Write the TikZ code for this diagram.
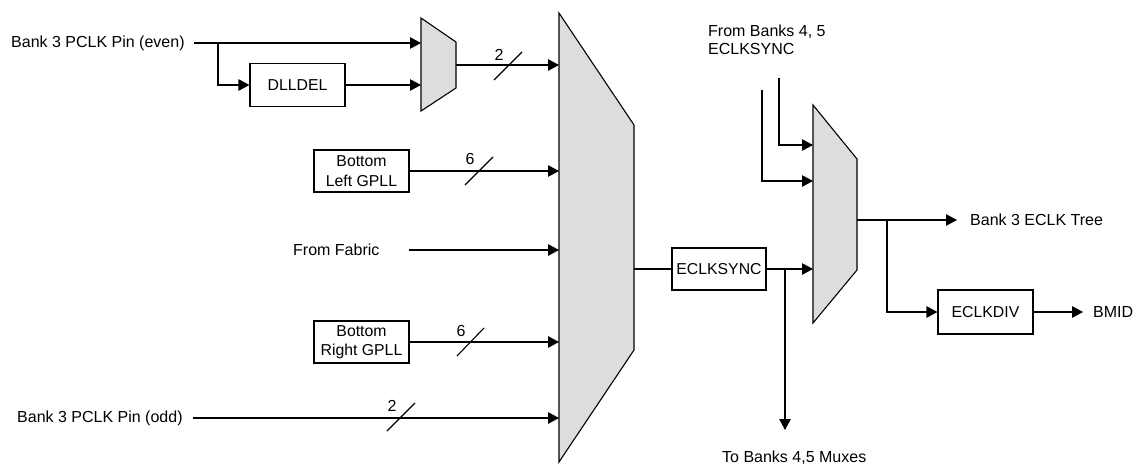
\documentclass[tikz,border=0pt]{standalone}
\usepackage{fontspec}
\setmainfont{Liberation Sans}
\usetikzlibrary{arrows.meta}
\definecolor{muxgray}{RGB}{221,221,221}
\begin{document}
\begin{tikzpicture}[x=1pt,y=-1pt,
  wire/.style={line width=1.1pt},
  arr/.style={wire,-{Triangle[length=11pt,width=11.5pt]}},
  blk/.style={draw,line width=1.1pt,fill=white,inner sep=0pt,align=center,
    font=\fontsize{15.8}{19.5}\selectfont},
  lbl/.style={inner sep=0pt,align=left,font=\fontsize{16}{18}\selectfont},
  muxshape/.style={draw,line width=1.1pt,fill=muxgray,line join=miter},
  busslash/.style={line width=1.1pt},
  buslbl/.style={inner sep=0pt,font=\fontsize{16}{18}\selectfont}]
\useasboundingbox (0,0) rectangle (1136,466);

% muxes
\path[muxshape] (421,18) -- (456,42) -- (456,88) -- (421,111) -- cycle;
\path[muxshape] (559,13) -- (634,125) -- (634,350) -- (559,462) -- cycle;
\path[muxshape] (813,105) -- (857,159) -- (857,270) -- (813,323) -- cycle;

% mux ports
\coordinate (m1a) at (421,43);
\coordinate (m1b) at (421,85);
\coordinate (m1o) at (456,65);
\coordinate (m0a) at (559,65);
\coordinate (m0b) at (559,171);
\coordinate (m0c) at (559,250);
\coordinate (m0d) at (559,342);
\coordinate (m0e) at (559,418);
\coordinate (m0o) at (634,269);
\coordinate (m2a) at (813,145);
\coordinate (m2b) at (813,181);
\coordinate (m2c) at (813,269);
\coordinate (m2o) at (857,220);

% blocks
\node[blk,minimum width=95pt,minimum height=43pt] (dll) at (297.5,85) {DLLDEL};
\node[blk,minimum width=95pt,minimum height=42pt] (blg) at (361.5,171) {Bottom\\Left GPLL};
\node[blk,minimum width=95pt,minimum height=42pt] (brg) at (361.5,342) {Bottom\\Right GPLL};
\node[blk,minimum width=94pt,minimum height=42pt] (esync) at (719,269) {ECLKSYNC};
\node[blk,minimum width=95pt,minimum height=44pt] (ediv) at (985.5,312) {ECLKDIV};

% labels
\node[lbl,anchor=west] (even) at (11,43) {Bank 3 PCLK Pin (even)};
\node[lbl,anchor=west] (odd) at (17,418) {Bank 3 PCLK Pin (odd)};
\node[lbl,anchor=west] (fab) at (293,250) {From Fabric};
\node[lbl,anchor=west] (b45) at (708,40) {From Banks 4, 5\\ECLKSYNC};
\node[lbl,anchor=west] (tree) at (970,220) {Bank 3 ECLK Tree};
\node[lbl,anchor=west] (bmid) at (1093,312) {BMID};
\node[lbl,anchor=west] (tob) at (722,458) {To Banks 4,5 Muxes};

% free ends
\coordinate (evs) at (194,43);
\coordinate (evj) at (218,43);
\coordinate (fabs) at (409,250);
\coordinate (odds) at (193,418);
\coordinate (in1) at (779,78);
\coordinate (in2) at (762,90);
\coordinate (sj) at (785,269);
\coordinate (sd) at (785,430);
\coordinate (treet) at (957,220);
\coordinate (dj) at (887,220);
\coordinate (bmidt) at (1083,312);

% wires
\draw[arr] (evs) -- (m1a);
\draw[arr] (evj) |- (dll.west);
\draw[arr] (dll.east) -- (m1b);
\draw[arr] (m1o) -- (m0a);
\draw[arr] (blg.east) -- (m0b);
\draw[arr] (fabs) -- (m0c);
\draw[arr] (brg.east) -- (m0d);
\draw[arr] (odds) -- (m0e);
\draw[wire] (m0o) -- (esync.west);
\draw[arr] (esync.east) -- (m2c);
\draw[arr] (sj) -- (sd);
\draw[arr] (in1) |- (m2a);
\draw[arr] (in2) |- (m2b);
\draw[arr] (m2o) -- (treet);
\draw[arr] (dj) |- (ediv.west);
\draw[arr] (ediv.east) -- (bmidt);

% bus slashes
\draw[busslash] (494,80) -- (522,52);
\node[buslbl] (n2a) at (499,55) {2};
\draw[busslash] (465,185) -- (493,157);
\node[buslbl] (n6a) at (470,159) {6};
\draw[busslash] (457,356) -- (484,328);
\node[buslbl] (n6b) at (461,331) {6};
\draw[busslash] (387,431) -- (415,403);
\node[buslbl] (n2b) at (392,406) {2};
\end{tikzpicture}
\end{document}
